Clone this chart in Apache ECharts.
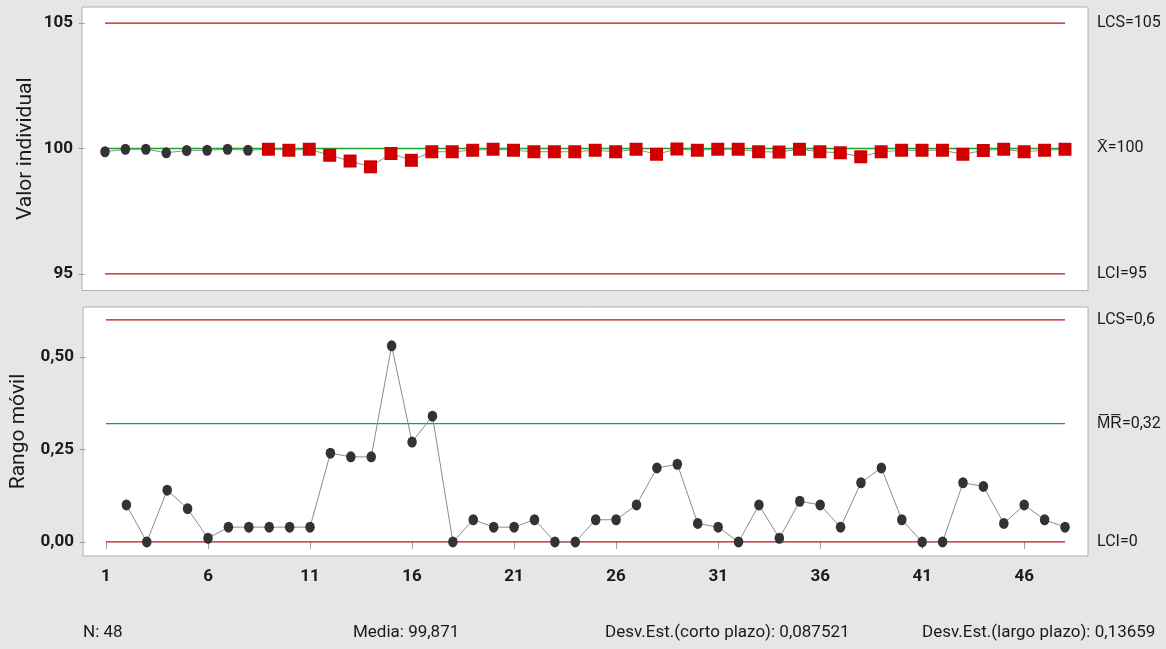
<!DOCTYPE html>
<html>
<head>
<meta charset="utf-8">
<script src="https://cdn.jsdelivr.net/npm/echarts@6/dist/echarts.min.js"></script>
<style>
  html, body { margin: 0; padding: 0; background: #e6e6e6; }
  #chart { width: 1166px; height: 649px; }
</style>
</head>
<body>
<div id="chart"></div>
<script>
// Observation numbers 1..48
const observations = [1,2,3,4,5,6,7,8,9,10,11,12,13,14,15,16,17,18,19,20,21,22,23,24,
  25,26,27,28,29,30,31,32,33,34,35,36,37,38,39,40,41,42,43,44,45,46,47,48];

// Individual values
const individualValues = [99.87,99.97,99.97,99.83,99.92,99.93,99.97,99.93,99.97,99.93,99.97,99.73,
  99.50,99.27,99.80,99.53,99.87,99.87,99.93,99.97,99.93,99.87,99.87,99.87,
  99.93,99.87,99.97,99.77,99.98,99.93,99.97,99.97,99.87,99.86,99.97,99.87,
  99.83,99.67,99.87,99.93,99.93,99.93,99.77,99.92,99.97,99.87,99.93,99.97];

// Moving ranges (first observation has none)
const movingRanges = [null,0.10,0.00,0.14,0.09,0.01,0.04,0.04,0.04,0.04,0.04,0.24,
  0.23,0.23,0.53,0.27,0.34,0.00,0.06,0.04,0.04,0.06,0.00,0.00,
  0.06,0.06,0.10,0.20,0.21,0.05,0.04,0.00,0.10,0.01,0.11,0.10,
  0.04,0.16,0.20,0.06,0.00,0.00,0.16,0.15,0.05,0.10,0.06,0.04];

// Observations flagged by the run test (9+ points on one side of the centre line)
const flaggedFrom = 9;

// Control limits: upper, centre, lower
const iLimits = [105, 100, 95];
const mrLimits = [0.6, 0.32, 0];
const iLimitLabels = ['LCS=105', 'X\u0304=100', 'LCI=95'];
const mrLimitLabels = ['LCS=0,6', 'M\u0305R\u0305=0,32', 'LCI=0'];

// Axis ticks
const xTicks = [1, 6, 11, 16, 21, 26, 31, 36, 41, 46];
const iTicks = [95, 100, 105];
const mrTicks = [0, 0.25, 0.5];

// Summary statistics under the chart
const statsTexts = ['N: 48', 'Media: 99,871', 'Desv.Est.(corto plazo): 0,087521', 'Desv.Est.(largo plazo): 0,13659'];
const statsX = [83, 353, 605, 922];

const FONT = "'Roboto', sans-serif";
const TXT = '#1a1a1a';
const RED = '#b8141c';
const GREEN = '#14a82a';
const LIMIT_COLORS = [RED, GREEN, RED];
const xFirst = observations[0], xLast = observations[observations.length - 1];

function comma(v, d) { return v.toFixed(d).replace('.', ','); }

// One horizontal line series per control limit, labelled at its right end
function limitSeries(axisIndex, limits, labels) {
  return limits.map((y, k) => ({
    type: 'line', xAxisIndex: axisIndex, yAxisIndex: axisIndex,
    data: [[xFirst, y], [xLast, y]],
    symbol: 'none', silent: true, z: 3,
    itemStyle: { color: LIMIT_COLORS[k] },
    lineStyle: { color: LIMIT_COLORS[k], width: 1.3, opacity: 1 },
    endLabel: { show: true, formatter: labels[k], distance: 32, color: TXT, fontFamily: FONT, fontSize: 16 }
  }));
}

const chart = echarts.init(document.getElementById('chart'), null, { renderer: 'canvas' });

const grids = [
  { left: 82, top: 7, width: 1006, height: 283.5 },
  { left: 82, top: 307, width: 1006, height: 249 }
].map(g => Object.assign(g, { show: true, backgroundColor: '#ffffff', borderColor: '#b0b0b0', borderWidth: 1 }));

const xAxisBase = {
  type: 'value', min: -0.126, max: 49.126,
  axisLine: { show: false }, splitLine: { show: false }
};

const iData = individualValues.map((v, i) => {
  const flagged = observations[i] >= flaggedFrom;
  return {
    value: [observations[i], v],
    symbol: flagged ? 'rect' : 'circle',
    symbolSize: flagged ? [13, 13] : [9.5, 11],
    itemStyle: { color: flagged ? '#d10000' : '#333333' }
  };
});

const mrData = movingRanges.map((v, i) => [observations[i], v]);

chart.setOption({
  backgroundColor: '#e6e6e6',
  animation: false,
  grid: grids,
  xAxis: [
    Object.assign({ gridIndex: 0, axisTick: { show: false }, axisLabel: { show: false } }, xAxisBase),
    Object.assign({
      gridIndex: 1,
      axisTick: { show: true, customValues: xTicks, length: 7, lineStyle: { color: '#a0a0a0' } },
      axisLabel: { show: true, customValues: xTicks, margin: 12, color: TXT, fontFamily: FONT, fontSize: 17, fontWeight: 'bold' }
    }, xAxisBase)
  ],
  yAxis: [
    {
      gridIndex: 0, type: 'value', min: 94.34, max: 105.64,
      name: 'Valor individual', nameLocation: 'middle', nameGap: 46, nameMoveOverlap: false,
      nameTextStyle: { color: TXT, fontFamily: FONT, fontSize: 21 },
      axisLine: { show: false }, splitLine: { show: false },
      axisTick: { show: true, customValues: iTicks, length: 6, lineStyle: { color: '#a0a0a0' } },
      axisLabel: { customValues: iTicks, margin: 9, color: TXT, fontFamily: FONT, fontSize: 17, fontWeight: 'bold' }
    },
    {
      gridIndex: 1, type: 'value', min: -0.038, max: 0.635,
      name: 'Rango m\u00f3vil', nameLocation: 'middle', nameGap: 54, nameMoveOverlap: false,
      nameTextStyle: { color: TXT, fontFamily: FONT, fontSize: 21 },
      axisLine: { show: false }, splitLine: { show: false },
      axisTick: { show: true, customValues: mrTicks, length: 6, lineStyle: { color: '#a0a0a0' } },
      axisLabel: { customValues: mrTicks, margin: 9, color: TXT, fontFamily: FONT, fontSize: 17, fontWeight: 'bold',
        formatter: v => comma(v, 2) }
    }
  ],
  series: [
    ...limitSeries(0, iLimits, iLimitLabels),
    ...limitSeries(1, mrLimits, mrLimitLabels),
    {
      type: 'line', xAxisIndex: 0, yAxisIndex: 0, data: iData,
      lineStyle: { color: '#8c8c8c', width: 1 },
      z: 5
    },
    {
      type: 'line', xAxisIndex: 1, yAxisIndex: 1, data: mrData,
      symbol: 'circle', symbolSize: [9.5, 11],
      itemStyle: { color: '#333333' },
      lineStyle: { color: '#8c8c8c', width: 1 },
      z: 5
    }
  ],
  graphic: statsTexts.map((t, i) => ({
    type: 'text', left: statsX[i], top: 624,
    style: { text: t, fill: TXT, font: '17px ' + FONT }
  }))
});
</script>
</body>
</html>
